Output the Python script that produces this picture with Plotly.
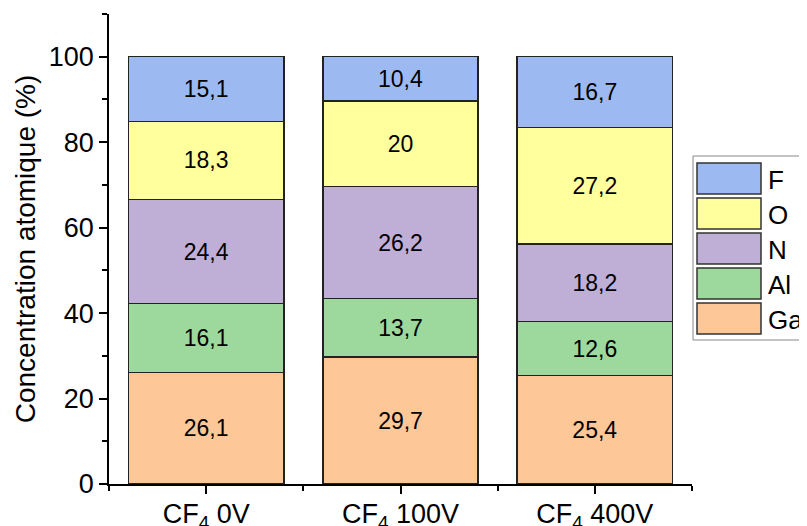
import plotly.graph_objects as go

# data
samples = ["CF<sub>4</sub> 0V", "CF<sub>4</sub> 100V", "CF<sub>4</sub> 400V"]
ga = [26.1, 29.7, 25.4]
al = [16.1, 13.7, 12.6]
n = [24.4, 26.2, 18.2]
o = [18.3, 20.0, 27.2]
f = [15.1, 10.4, 16.7]

series = [
    ("Ga", ga, "#FDC797"),
    ("Al", al, "#9DD89C"),
    ("N", n, "#BFAED6"),
    ("O", o, "#FFFF9E"),
    ("F", f, "#9CBAF1"),
]

FONT = "Arial, Liberation Sans, sans-serif"
OFF = 8                       # page body margin
W, H = 807 - OFF, 526 - OFF
L, R, T, B = 109 - OFF, 692 - OFF, 14 - OFF, 484 - OFF   # plot area


def fmt(v):
    return ("%g" % v).replace(".", ",")


def px_x(x):
    return (x - OFF - L) / (R - L)


def px_y(y):
    return (B - (y - OFF)) / (B - T)


fig = go.Figure()
for name, vals, color in series:
    fig.add_trace(go.Bar(
        x=list(range(len(samples))),
        y=vals,
        name=name,
        width=0.8,
        marker=dict(color=color, line=dict(color="#222222", width=1.5)),
        text=[fmt(v) for v in vals],
        textposition="inside",
        insidetextanchor="middle",
        textangle=0,
        textfont=dict(family=FONT, size=23, color="black"),
        showlegend=False,
    ))

# legend drawn by hand so the swatches are large like in the original
x0, y_top, pitch, sw_w, sw_h = 697, 163, 35, 64, 31
fig.add_shape(type="rect", xref="paper", yref="paper",
              x0=px_x(693), x1=px_x(830), y0=px_y(340), y1=px_y(156),
              line=dict(color="#888888", width=1), fillcolor="white")
for i, (name, vals, color) in enumerate(reversed(series)):
    top = y_top + i * pitch
    fig.add_shape(type="rect", xref="paper", yref="paper",
                  x0=px_x(x0), x1=px_x(x0 + sw_w),
                  y0=px_y(top + sw_h), y1=px_y(top),
                  line=dict(color="#333333", width=1.5), fillcolor=color)
    fig.add_annotation(xref="paper", yref="paper",
                       x=px_x(x0 + sw_w + 5), y=px_y(top + sw_h / 2 + 1),
                       text=name, showarrow=False, xanchor="left",
                       yanchor="middle",
                       font=dict(family=FONT, size=26, color="black"))

fig.update_xaxes(
    range=[-0.5, 2.5],
    tickvals=list(range(len(samples))),
    ticktext=samples,
    showline=True, linecolor="black", linewidth=1.5,
    ticks="outside", ticklen=8, tickwidth=1.5, tickcolor="black",
    minor=dict(tickvals=[-0.5, 0.5, 1.5, 2.5], ticks="outside",
               ticklen=5, tickwidth=1.5, tickcolor="black"),
    tickfont=dict(family=FONT, size=27, color="black"),
    ticklabelstandoff=-3,
    showgrid=False, zeroline=False, automargin=False,
)
fig.update_yaxes(
    range=[0, 110],
    tickvals=[0, 20, 40, 60, 80, 100],
    showline=True, linecolor="black", linewidth=1.5,
    ticks="outside", ticklen=8, tickwidth=1.5, tickcolor="black",
    minor=dict(tickvals=[10, 30, 50, 70, 90, 110], ticks="outside",
               ticklen=5, tickwidth=1.5, tickcolor="black"),
    tickfont=dict(family=FONT, size=27, color="black"),
    title=dict(text="Concentration atomique (%)",
               font=dict(family=FONT, size=28, color="black"), standoff=5),
    showgrid=False, zeroline=False, automargin=False,
)

fig.update_layout(
    width=W, height=H,
    barmode="stack",
    plot_bgcolor="white", paper_bgcolor="white",
    margin=dict(l=L, r=W - R, t=T, b=H - B),
    showlegend=False,
)

fig.write_html("out.html")
